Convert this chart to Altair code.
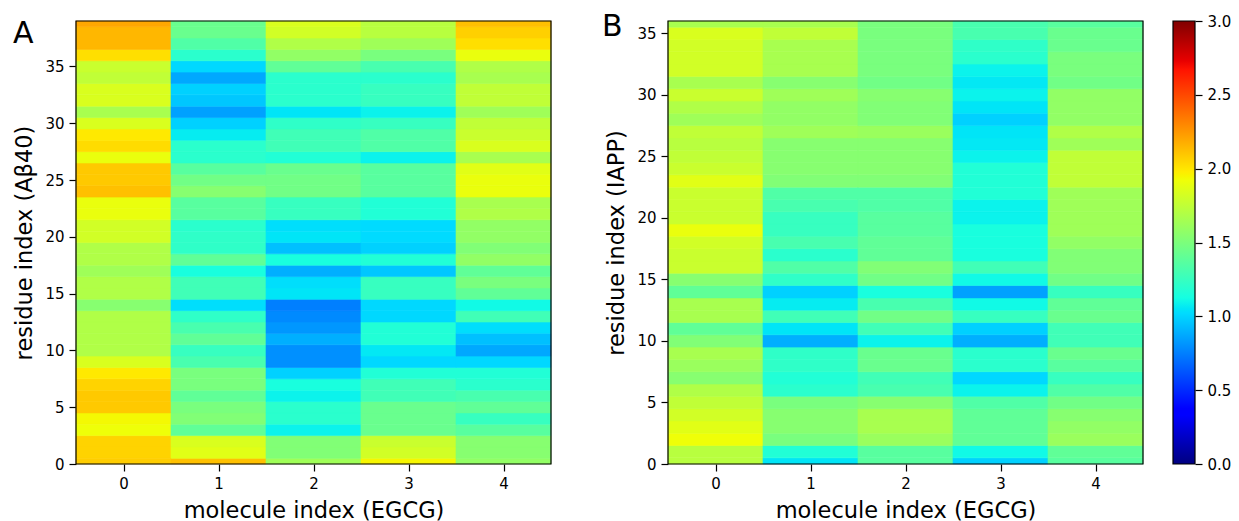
import altair as alt
import pandas as pd

# ---------------- data ----------------
mol_ticks = [0, 1, 2, 3, 4]
res_ticks = [0, 5, 10, 15, 20, 25, 30, 35]
cbar_ticks = [0.0, 0.5, 1.0, 1.5, 2.0, 2.5, 3.0]

# Panel A: residues 0..39 (A-beta 40), one list per EGCG molecule
a_mol0 = [2.08, 2.06, 2.06, 1.92, 1.94, 2.09, 2.09, 2.06, 1.99, 1.84, 1.69, 1.69, 1.69, 1.69, 1.54, 1.69, 1.69, 1.63, 1.69, 1.69,
          1.81, 1.81, 1.90, 1.90, 2.12, 2.09, 2.09, 1.90, 2.03, 1.99, 1.84, 1.66, 1.84, 1.84, 1.75, 1.78, 2.02, 2.15, 2.15, 2.20]
a_mol1 = [2.12, 1.87, 1.84, 1.40, 1.52, 1.49, 1.40, 1.49, 1.49, 1.31, 1.25, 1.40, 1.31, 1.22, 1.03, 1.28, 1.28, 1.14, 1.40, 1.22,
          1.22, 1.20, 1.37, 1.37, 1.54, 1.46, 1.37, 1.20, 1.20, 1.07, 0.99, 0.85, 0.96, 0.99, 0.87, 1.01, 1.20, 1.34, 1.43, 1.43]
a_mol2 = [1.63, 1.52, 1.52, 1.09, 1.20, 1.20, 1.09, 1.14, 0.99, 0.80, 0.80, 0.89, 0.82, 0.78, 0.75, 1.05, 1.03, 0.89, 1.14, 0.94,
          1.05, 1.03, 1.25, 1.25, 1.46, 1.46, 1.43, 1.17, 1.28, 1.28, 1.22, 1.05, 1.20, 1.20, 1.20, 1.40, 1.58, 1.69, 1.81, 1.84]
a_mol3 = [1.95, 1.81, 1.78, 1.43, 1.43, 1.43, 1.28, 1.28, 1.17, 1.01, 1.06, 1.17, 1.17, 1.01, 1.01, 1.25, 1.25, 0.96, 1.17, 0.99,
          1.02, 1.02, 1.17, 1.17, 1.37, 1.37, 1.37, 1.09, 1.34, 1.34, 1.25, 1.09, 1.25, 1.25, 1.20, 1.31, 1.49, 1.63, 1.72, 1.72]
a_mol4 = [1.58, 1.54, 1.54, 1.37, 1.25, 1.40, 1.31, 1.20, 1.17, 1.01, 0.87, 0.94, 1.03, 1.28, 1.11, 1.40, 1.49, 1.40, 1.58, 1.52,
          1.58, 1.58, 1.69, 1.66, 1.90, 1.90, 1.87, 1.66, 1.84, 1.78, 1.75, 1.63, 1.75, 1.75, 1.66, 1.69, 1.90, 2.02, 2.07, 2.12]

# Panel B: residues 0..36 (IAPP)
b_mol0 = [1.72, 1.72, 1.92, 1.87, 1.81, 1.75, 1.69, 1.54, 1.61, 1.66, 1.52, 1.40, 1.66, 1.66, 1.40, 1.54, 1.78, 1.78, 1.81,
          1.90, 1.78, 1.78, 1.78, 1.87, 1.78, 1.75, 1.72, 1.75, 1.63, 1.69, 1.78, 1.66, 1.81, 1.81, 1.81, 1.84, 1.66]
b_mol1 = [1.05, 1.17, 1.49, 1.54, 1.54, 1.49, 1.20, 1.17, 1.22, 1.22, 0.89, 1.05, 1.28, 1.07, 0.99, 1.22, 1.34, 1.20, 1.31,
          1.25, 1.25, 1.31, 1.34, 1.52, 1.54, 1.54, 1.54, 1.63, 1.58, 1.58, 1.63, 1.54, 1.66, 1.66, 1.66, 1.75, 1.66]
b_mol2 = [1.37, 1.37, 1.61, 1.66, 1.66, 1.54, 1.31, 1.28, 1.43, 1.43, 1.09, 1.28, 1.46, 1.31, 1.14, 1.46, 1.52, 1.40, 1.40,
          1.37, 1.37, 1.34, 1.34, 1.52, 1.54, 1.54, 1.54, 1.61, 1.52, 1.52, 1.54, 1.46, 1.49, 1.49, 1.49, 1.49, 1.49]
b_mol3 = [0.99, 1.11, 1.40, 1.40, 1.40, 1.34, 1.09, 1.01, 1.20, 1.20, 0.89, 0.99, 1.25, 1.11, 0.85, 1.11, 1.28, 1.14, 1.14,
          1.14, 1.09, 1.09, 1.17, 1.17, 1.17, 1.09, 1.06, 1.05, 0.99, 1.05, 1.09, 1.06, 1.09, 1.20, 1.22, 1.31, 1.31]
b_mol4 = [1.37, 1.40, 1.61, 1.58, 1.54, 1.46, 1.34, 1.25, 1.37, 1.43, 1.28, 1.28, 1.43, 1.40, 1.25, 1.46, 1.52, 1.52, 1.58,
          1.63, 1.63, 1.63, 1.63, 1.75, 1.75, 1.75, 1.63, 1.69, 1.58, 1.58, 1.58, 1.46, 1.49, 1.49, 1.43, 1.43, 1.37]

# ---------------- jet colormap (matplotlib segment data) ----------------
_jet = {
    "r": [(0, 0), (0.35, 0), (0.66, 1), (0.89, 1), (1, 0.5)],
    "g": [(0, 0), (0.125, 0), (0.375, 1), (0.64, 1), (0.91, 0), (1, 0)],
    "b": [(0, 0.5), (0.11, 1), (0.34, 1), (0.65, 0), (1, 0)],
}


def _chan(pts, t):
    for (t0, v0), (t1, v1) in zip(pts[:-1], pts[1:]):
        if t0 <= t <= t1:
            return v0 + (v1 - v0) * (t - t0) / (t1 - t0)
    return pts[-1][1]


_bps = sorted({p[0] for k in _jet for p in _jet[k]})


def _hex(t):
    return "#%02x%02x%02x" % tuple(int(round(255 * _chan(_jet[k], t))) for k in "rgb")


jet_domain = [3.0 * t for t in _bps]
jet_range = [_hex(t) for t in _bps]
jet_scale = alt.Scale(domain=jet_domain, range=jet_range, interpolate="rgb", clamp=True)
cbar_fill = alt.LinearGradient(
    gradient="linear",
    stops=[alt.GradientStop(color=c, offset=t) for t, c in zip(_bps, jet_range)],
    x1=0, x2=0, y1=1, y2=0,
)

FONT = "DejaVu Sans"
W, H = 475, 443


def cells(cols, top):
    rows = []
    for m, col in enumerate(cols):
        for r, v in enumerate(col):
            rows.append({"mol": m, "res": r, "x0": m - 0.5, "x1": m + 0.5,
                         "y0": max(0.0, r - 0.5), "y1": min(float(top), r + 0.5), "value": v})
    return pd.DataFrame(rows)


one = pd.DataFrame({"k": [0]})


def panel(df, top, ytitle, letter, lx, ly):
    xs = alt.Scale(domain=[-0.5, 4.5], range=[0, W], nice=False, zero=False)
    ys = alt.Scale(domain=[0, top], nice=False, zero=False)
    heat = alt.Chart(df).mark_rect(strokeWidth=0.6).encode(
        x=alt.X("x0:Q", scale=xs, axis=alt.Axis(values=mol_ticks, format="d", title="molecule index (EGCG)")),
        x2="x1:Q",
        y=alt.Y("y0:Q", scale=ys, axis=alt.Axis(values=res_ticks, format="d", title=ytitle)),
        y2="y1:Q",
        color=alt.Color("value:Q", scale=jet_scale, legend=None),
        stroke=alt.Color("value:Q", scale=jet_scale, legend=None),
    )
    frame = alt.Chart(one).mark_rect(filled=False, stroke="black", strokeWidth=1.2).encode(
        x=alt.XDatum(-0.5), x2=alt.X2Datum(4.5), y=alt.YDatum(0), y2=alt.Y2Datum(top)
    )
    txt = alt.Chart(one).mark_text(text=letter, font=FONT, fontSize=30, align="left",
                                   baseline="alphabetic", color="black").encode(
        x=alt.value(lx), y=alt.value(ly))
    return alt.layer(heat, frame, txt)


dfA = cells([a_mol0, a_mol1, a_mol2, a_mol3, a_mol4], 39)
dfB = cells([b_mol0, b_mol1, b_mol2, b_mol3, b_mol4], 36)

layerA = panel(dfA, 39, "residue index (Aβ40)", "A", -63, 22)
layerB = panel(dfB, 36, "residue index (IAPP)", "B", -66, 15)

cbar = alt.Chart(one).mark_rect(fill=cbar_fill, stroke="black", strokeWidth=1.2).encode(
    x=alt.value(W + 30), x2=alt.value(W + 52),
    y=alt.YDatum(0, scale=alt.Scale(domain=[0, 3], nice=False, zero=False),
                 axis=alt.Axis(orient="right", values=cbar_ticks, format=".1f", title=None)),
    y2=alt.Y2Datum(3),
)

chartA = layerA.properties(width=W, height=H)
chartB = alt.layer(layerB, cbar).resolve_scale(y="independent").properties(width=W + 52, height=H)

chart = alt.hconcat(chartA, chartB, spacing=117, bounds="flush").properties(
    padding={"left": 5, "top": 4, "right": 0, "bottom": 0}
).configure_view(stroke=None).configure_axis(
    labelFont=FONT, titleFont=FONT, labelFontSize=15, titleFontSize=22.5, titleFontWeight="normal",
    labelColor="black", titleColor="black", tickColor="black", tickSize=7, tickWidth=1.2,
    domain=False, grid=False, labelPadding=5, titlePadding=8,
)

chart.save("out.html", embed_options={"renderer": "svg", "actions": False})
